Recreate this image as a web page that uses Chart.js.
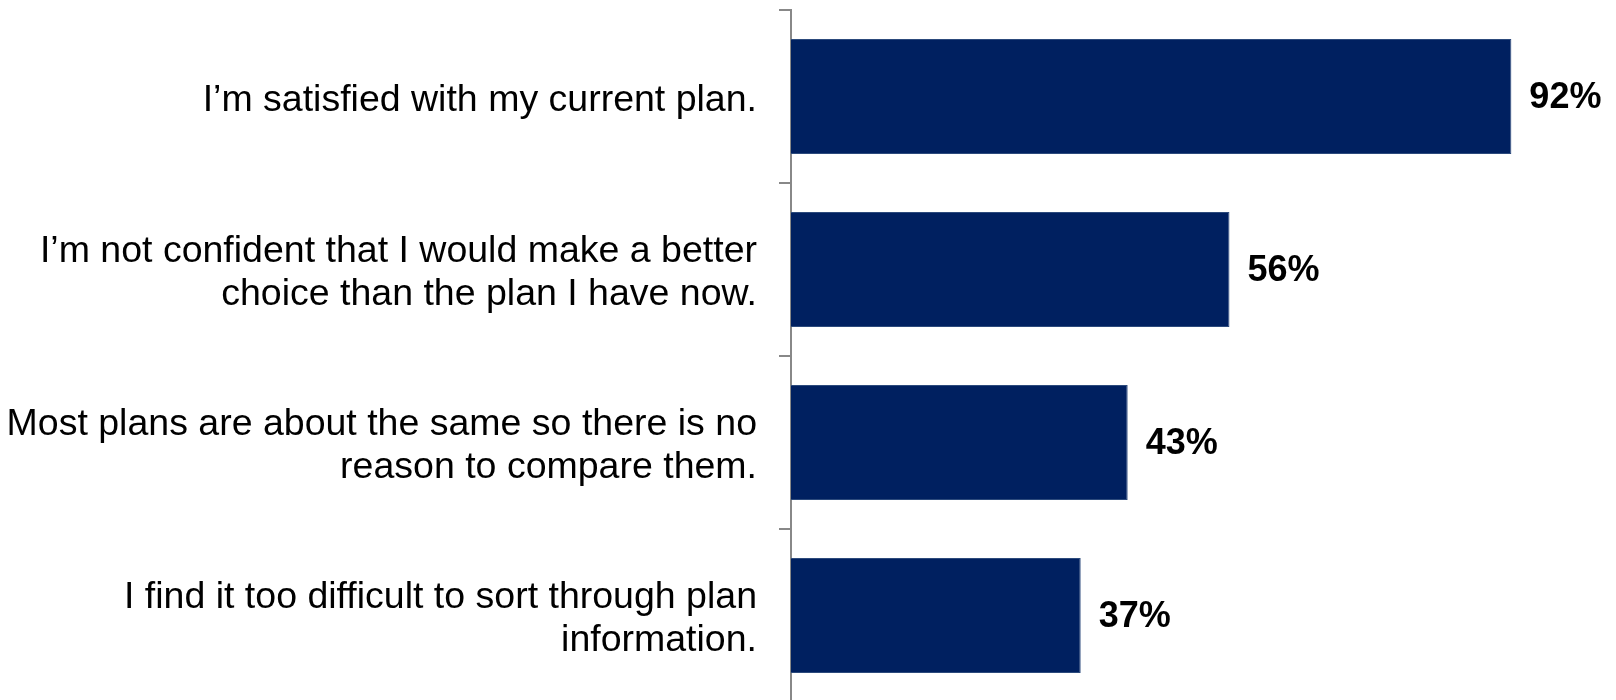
<!DOCTYPE html>
<html>
<head>
<meta charset="utf-8">
<script src="https://cdn.jsdelivr.net/npm/chart.js@4"></script>
<style>
  html, body { margin: 0; padding: 0; background: #fff; overflow: hidden; }
  #wrap { width: 1616px; height: 702px; }
</style>
</head>
<body>
<div id="wrap"><canvas id="grafico" width="1616" height="702"></canvas></div>
<script>
// datos
const categorias = [
  ["I’m satisfied with my current plan."],
  ["I’m not confident that I would make a better", "choice than the plan I have now."],
  ["Most plans are about the same so there is no", "reason to compare them."],
  ["I find it too difficult to sort through plan", "information."]
];
const porcentajes = [92, 56, 43, 37];

// etiquetas de valor al final de cada barra
const etiquetasValor = {
  id: 'etiquetasValor',
  afterDatasetsDraw(chart) {
    const ctx = chart.ctx;
    const meta = chart.getDatasetMeta(0);
    ctx.save();
    ctx.font = 'bold 36px "Liberation Sans", Arial, sans-serif';
    ctx.fillStyle = '#000';
    ctx.textAlign = 'left';
    ctx.textBaseline = 'middle';
    meta.data.forEach((bar, i) => {
      ctx.fillText(porcentajes[i] + '%', bar.x + 18, bar.y + 2);
    });
    ctx.restore();
  }
};

const ctx = document.getElementById('grafico').getContext('2d');
new Chart(ctx, {
  type: 'bar',
  data: {
    labels: categorias,
    datasets: [{
      data: porcentajes,
      backgroundColor: '#002060',
      borderColor: '#2c4a7c',
      borderWidth: 1,
      categoryPercentage: 1,
      barPercentage: 0.665
    }]
  },
  options: {
    indexAxis: 'y',
    responsive: false,
    animation: false,
    layout: { padding: { top: 10, right: 42, bottom: 0, left: 0 } },
    plugins: {
      legend: { display: false },
      tooltip: { enabled: false }
    },
    scales: {
      x: {
        display: false,
        min: 0,
        max: 100
      },
      y: {
        afterFit: s => {
          s.width = 791;
          s.paddingTop = 0;
          s.paddingBottom = 0;
        },
        border: { display: true, color: '#888', width: 2 },
        grid: {
          drawOnChartArea: false,
          drawTicks: true,
          tickLength: 12,
          color: '#888',
          lineWidth: 2
        },
        ticks: {
          padding: 22,
          labelOffset: 4,
          color: '#000',
          font: { family: '"Liberation Sans", Arial, sans-serif', size: 37.5, lineHeight: 1.15 }
        }
      }
    }
  },
  plugins: [etiquetasValor]
});
</script>
</body>
</html>
